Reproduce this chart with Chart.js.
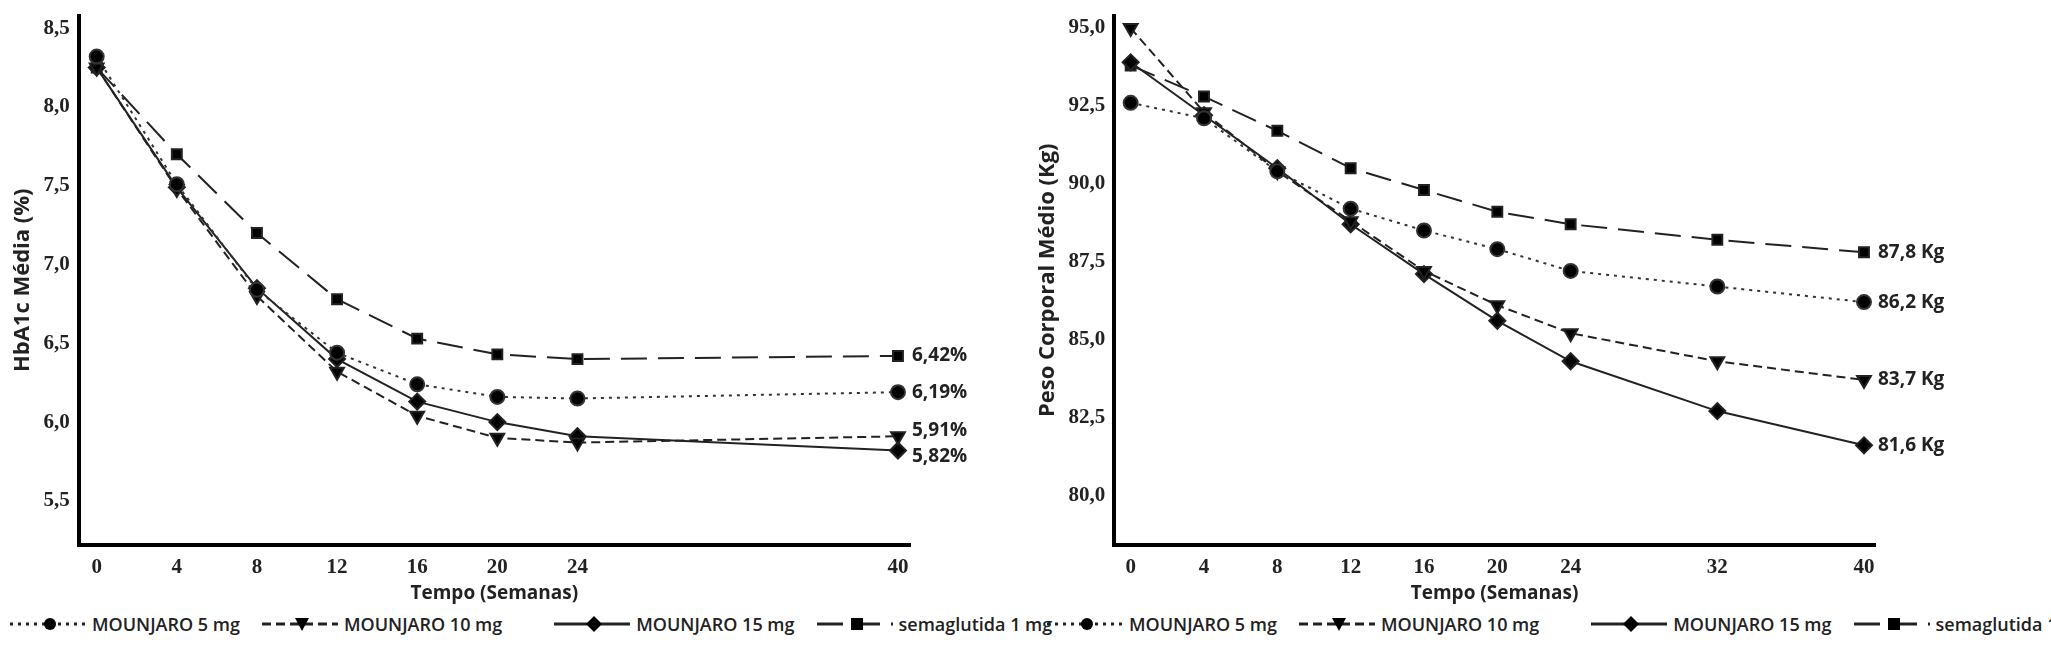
<!DOCTYPE html>
<html><head><meta charset="utf-8">
<script src="https://cdn.jsdelivr.net/npm/chart.js@4"></script>
<style>
body{margin:0;background:#fff;font-family:"Open Sans",sans-serif}
.box{position:absolute;top:0;height:605px}
.leg{position:absolute;top:612px;display:flex;align-items:center;font:600 18px "Open Sans";color:#222;white-space:nowrap}
.leg span{display:inline-flex;align-items:center}
.leg svg{margin-right:4px}
</style></head><body>
<div class="box" style="left:0;width:1010px"><canvas id="hba"></canvas></div>
<div class="box" style="left:1025px;width:950px"><canvas id="peso"></canvas></div>
<div class="leg" id="leg1" style="left:8px"></div>
<div class="leg" id="leg2" style="left:1045px"></div>
<script>
const weeksA = [0, 4, 8, 12, 16, 20, 24, 40];
const weeksB = [0, 4, 8, 12, 16, 20, 24, 32, 40];
const seriesNames = ['MOUNJARO 5 mg', 'MOUNJARO 10 mg', 'MOUNJARO 15 mg', 'semaglutida 1 mg'];

const hbaM5 = [8.32, 7.51, 6.84, 6.44, 6.24, 6.16, 6.15, 6.19];
const hbaM10 = [8.25, 7.48, 6.80, 6.32, 6.04, 5.90, 5.87, 5.91];
const hbaM15 = [8.25, 7.49, 6.85, 6.40, 6.13, 6.00, 5.91, 5.82];
const hbaSema = [8.25, 7.70, 7.20, 6.78, 6.53, 6.43, 6.40, 6.42];
const hbaTicks = [5.5, 6.0, 6.5, 7.0, 7.5, 8.0, 8.5];

const pesoM5 = [92.6, 92.1, 90.4, 89.2, 88.5, 87.9, 87.2, 86.7, 86.2];
const pesoM10 = [95.0, 92.3, 90.4, 88.8, 87.2, 86.1, 85.2, 84.3, 83.7];
const pesoM15 = [93.9, 92.2, 90.5, 88.7, 87.1, 85.6, 84.3, 82.7, 81.6];
const pesoSema = [93.8, 92.8, 91.7, 90.5, 89.8, 89.1, 88.7, 88.2, 87.8];
const pesoTicks = [80, 82.5, 85, 87.5, 90, 92.5, 95];

const styles = [
  {dash: [3, 5], point: 'circle', rot: 0, color: '#333', r: 7},
  {dash: [9, 5], point: 'triangle', rot: 180, color: '#222', r: 8},
  {dash: [], point: 'rectRot', rot: 0, color: '#222', r: 8},
  {dash: [26, 11], point: 'rect', rot: 0, color: '#222', r: 7}
];
const tickFont = {family: 'Liberation Sans Narrow', size: 21, weight: 'bold'};
const fmt = (v, d) => v.toFixed(d).replace('.', ',');

function makeSets(weeks, arrays) {
  return arrays.map((arr, i) => ({
    label: seriesNames[i],
    data: arr.map((v, j) => ({x: weeks[j], y: v})),
    borderColor: styles[i].color, backgroundColor: '#000',
    borderWidth: 2, borderDash: styles[i].dash,
    pointStyle: styles[i].point, rotation: styles[i].rot,
    pointRadius: styles[i].r, tension: 0
  }));
}

const endLabels = {
  id: 'endLabels',
  afterDatasetsDraw(chart, args, opts) {
    const ctx = chart.ctx;
    ctx.save();
    ctx.font = 'bold 19px "Open Sans"';
    ctx.fillStyle = '#222';
    ctx.textBaseline = 'middle';
    chart.data.datasets.forEach((ds, i) => {
      const p = ds.data[ds.data.length - 1];
      const x = chart.scales.x.getPixelForValue(p.x) + 14;
      const y = chart.scales.y.getPixelForValue(p.y) + (opts.shift ? opts.shift[i] : 0);
      ctx.fillText(fmt(p.y, opts.dec) + opts.unit, x, y);
    });
    ctx.restore();
  }
};

function makeChart(id, weeks, arrays, ticks, yMin, yMax, yTitle, labelOpts) {
  new Chart(document.getElementById(id), {
    type: 'line',
    data: {datasets: makeSets(weeks, arrays)},
    plugins: [endLabels],
    options: {
      responsive: true, maintainAspectRatio: false, animation: false,
      layout: {padding: {top: 12, right: 100, left: 6}},
      plugins: {legend: {display: false}, tooltip: {enabled: false}, endLabels: labelOpts},
      scales: {
        x: {
          type: 'linear', min: -0.9, max: 40.6,
          afterBuildTicks: s => { s.ticks = weeks.map(v => ({value: v})); },
          grid: {display: false, drawTicks: true, tickLength: 8, tickColor: '#000'},
          border: {color: '#000', width: 4},
          ticks: {color: '#222', font: tickFont, padding: 2},
          title: {display: true, text: 'Tempo (Semanas)', color: '#222', font: {family: 'Open Sans', size: 19, weight: 'bold'}, padding: 0}
        },
        y: {
          min: yMin, max: yMax,
          afterBuildTicks: s => { s.ticks = ticks.map(v => ({value: v})); },
          grid: {display: false, tickLength: 6, tickColor: '#000'},
          border: {color: '#000', width: 4},
          ticks: {color: '#222', font: tickFont, callback: v => fmt(v, 1)},
          title: {display: true, text: yTitle, color: '#222', font: {family: 'Open Sans', size: 22, weight: 'bold'}}
        }
      }
    }
  });
}

makeChart('hba', weeksA, [hbaM5, hbaM10, hbaM15, hbaSema], hbaTicks, 5.22, 8.58, 'HbA1c Média (%)', {unit: '%', dec: 2, shift: [0, -6, 6, 0]});
makeChart('peso', weeksB, [pesoM5, pesoM10, pesoM15, pesoSema], pesoTicks, 78.4, 95.4, 'Peso Corporal Médio (Kg)', {unit: ' Kg', dec: 1});

function legend(id, gaps) {
  const el = document.getElementById(id);
  seriesNames.forEach((n, i) => {
    const s = styles[i];
    const mk = {circle: '<circle cx="42" cy="12" r="6"/>', triangle: '<polygon points="35,6 49,6 42,19"/>',
      rectRot: '<polygon points="42,4 50,12 42,20 34,12"/>', rect: '<rect x="36" y="6" width="12" height="12"/>'}[s.point];
    el.insertAdjacentHTML('beforeend', `<span style="margin-right:${gaps[i]}px"><svg width="80" height="24">
      <line x1="2" y1="12" x2="78" y2="12" stroke="#222" stroke-width="3" stroke-dasharray="${s.dash.join(',')}"/>
      <g fill="#000">${mk}</g></svg>${n}</span>`);
  });
}
legend('leg1', [20, 50, 20, 0]);
legend('leg2', [20, 50, 20, 0]);
</script>
</body></html>
